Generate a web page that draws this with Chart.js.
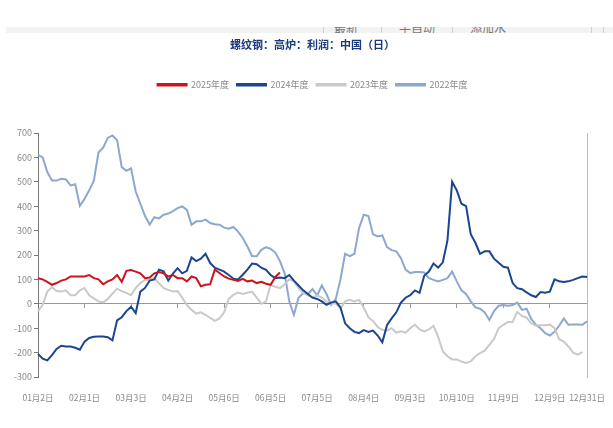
<!DOCTYPE html>
<html><head><meta charset="utf-8">
<script src="https://cdn.jsdelivr.net/npm/chart.js@4"></script>
<style>
html,body{margin:0;padding:0;background:#fff;}
#wrap{position:relative;width:613px;height:428px;overflow:hidden;}
canvas{position:absolute;left:0;top:0;}
#bar{position:absolute;left:6px;top:27px;width:607px;height:6px;background:#f2f2f2;overflow:hidden;}
#bar span{position:absolute;top:-8px;font:12px "Noto Sans CJK SC";color:#777;white-space:nowrap;}
#bar i{position:absolute;top:0;width:1px;height:6px;background:#d0d0d0;}
</style></head>
<body><div id="wrap"><canvas id="c" width="613" height="428"></canvas>
<div id="bar"><i style="left:317px"></i><span style="left:328px">最新</span><i style="left:375px"></i><span style="left:393px">半自动</span><i style="left:446px"></i><span style="left:464px">添加水</span><i style="left:585px"></i><i style="left:597px"></i></div>
</div>
<script>
const tickLabels = ['01月2日','02月1日','03月3日','04月2日','05月6日','06月5日','07月5日','08月4日','09月3日','10月10日','11月9日','12月9日','12月31日'];
const pointsPerTick = 10;
const lastGap = 8;

const s2025 = [105,100,90,78,85,95,100,112,112,112,112,118,105,100,80,92,100,118,90,135,138,132,125,105,108,125,130,125,112,118,105,
  105,92,112,105,72,78,80,140,126,112,103,98,94,102,92,95,85,90,82,78,110,128];
const s2024 = [-205,-225,-232,-210,-185,-172,-175,-175,-180,-188,-155,-140,-135,-134,-134,-137,-150,-68,-55,-30,-12,-38,50,65,95,100,140,133,95,124,146,
  125,135,190,175,185,205,167,148,140,132,118,103,100,119,140,165,162,148,139,118,105,108,105,118,95,75,55,40,25,
  20,10,-4,5,10,-15,-80,-100,-115,-120,-108,-115,-110,-130,-158,-88,-60,-35,5,25,35,55,45,115,132,165,148,170,260,500,
  465,410,400,285,250,205,215,215,185,168,152,148,85,64,60,47,35,28,48,45,50,100,92,89,92,98,105,112,110];
const s2023 = [-30,-5,50,68,52,50,55,35,35,55,65,35,22,10,6,20,42,62,52,45,35,65,85,98,100,105,85,64,57,50,52,
  25,-5,-25,-40,-35,-45,-58,-70,-60,-35,20,37,46,40,45,50,25,0,10,78,70,64,80,100,92,64,45,35,25,
  35,25,10,0,2,-20,10,16,10,16,-15,-55,-70,-95,-107,-110,-100,-118,-113,-118,-100,-85,-105,-113,-105,-90,-135,-195,-215,-228,
  -228,-237,-242,-236,-215,-202,-192,-168,-145,-100,-86,-75,-75,-33,-50,-57,-80,-90,-88,-88,-85,-100,-145,-155,-175,-200,-208,-198];
const s2022 = [610,600,540,505,505,512,510,485,490,402,430,465,505,620,640,680,690,670,560,545,555,460,410,360,325,355,350,365,370,380,392,
  399,385,324,338,338,345,331,326,324,312,308,315,296,270,235,196,195,221,232,225,210,175,125,10,-45,25,44,40,60,
  35,75,40,-4,20,100,205,195,205,310,365,360,285,276,280,232,220,215,187,140,126,130,130,128,105,98,92,98,105,132,
  92,55,40,10,-15,-20,-35,-66,-30,-8,-5,-8,-5,5,-25,-20,-62,-86,-100,-120,-130,-115,-90,-60,-86,-85,-85,-86,-72];
const seriesNames = ['2025年度','2024年度','2023年度','2022年度'];
const seriesColors = ['#c8161d','#1b4591','#c9c9c9','#8ea7cf'];

// category labels: a tick label every pointsPerTick points, final label after lastGap points
const labels = [];
for (let i = 0; i < tickLabels.length - 1; i++) {
  labels.push(tickLabels[i]);
  for (let j = 1; j < pointsPerTick; j++) labels.push('');
}
labels.length = (tickLabels.length - 2) * pointsPerTick + lastGap;
for (let i = 0; i < labels.length; i++) if (labels[i] === undefined) labels[i] = '';
labels.push(tickLabels[tickLabels.length - 1]);

Chart.defaults.font.family = '"Noto Sans CJK SC","Liberation Sans",sans-serif';

const values = [s2025, s2024, s2023, s2022];
new Chart(document.getElementById('c'), {
  type: 'line',
  data: {
    labels: labels,
    datasets: values.map((v, i) => ({
      label: seriesNames[i], data: v, borderColor: seriesColors[i], backgroundColor: seriesColors[i],
      borderWidth: 2, pointRadius: 0, tension: 0, fill: false, xAxisID: 'x', yAxisID: 'y'
    }))
  },
  options: {
    responsive: false, animation: false,
    layout: {padding: {left: 0, right: 20, top: 0, bottom: 0}},
    plugins: {
      title: {display: true, fullSize: false, text: '螺纹钢：高炉：利润：中国（日）', color: '#1a3a7a',
        font: {size: 11, weight: 'bold'}, padding: {top: 38, bottom: 21}},
      legend: {display: true, fullSize: false, labels: {boxWidth: 29, boxHeight: 1.5, padding: 8, color: '#888', font: {size: 9}}},
      tooltip: {enabled: false}
    },
    scales: {
      x: {type: 'category', position: 'bottom', grid: {display: false}, border: {display: false},
        ticks: {autoSkip: false, maxRotation: 0, minRotation: 0, padding: 8, color: '#888', font: {size: 8.5}},
        afterFit(s) { s.height = 51; }},
      xz: {type: 'category', axis: 'x', position: {y: 0},
        grid: {drawOnChartArea: false, drawTicks: true, tickLength: 4,
          color: (ctx) => (ctx.tick && ctx.tick.label) ? '#999' : 'rgba(0,0,0,0)'},
        border: {color: '#999'}, ticks: {display: false, autoSkip: false}},
      xt: {type: 'category', position: 'top', grid: {display: false}, border: {display: false},
        ticks: {display: false}, afterFit(s) { s.height = 33.8; }},
      y: {type: 'linear', position: 'left', min: -300, max: 700,
        ticks: {stepSize: 100, color: '#888', padding: 2, font: {size: 9}},
        grid: {drawOnChartArea: false, drawTicks: true, tickLength: 4, color: '#777'},
        border: {color: '#777'}, afterFit(s) { s.width = 38; }},
      yr: {type: 'linear', position: 'right', min: -300, max: 700, grid: {display: false},
        ticks: {display: false}, border: {color: '#bbb'}, afterFit(s) { s.width = 0; }}
    }
  }
});
</script>
</body></html>
